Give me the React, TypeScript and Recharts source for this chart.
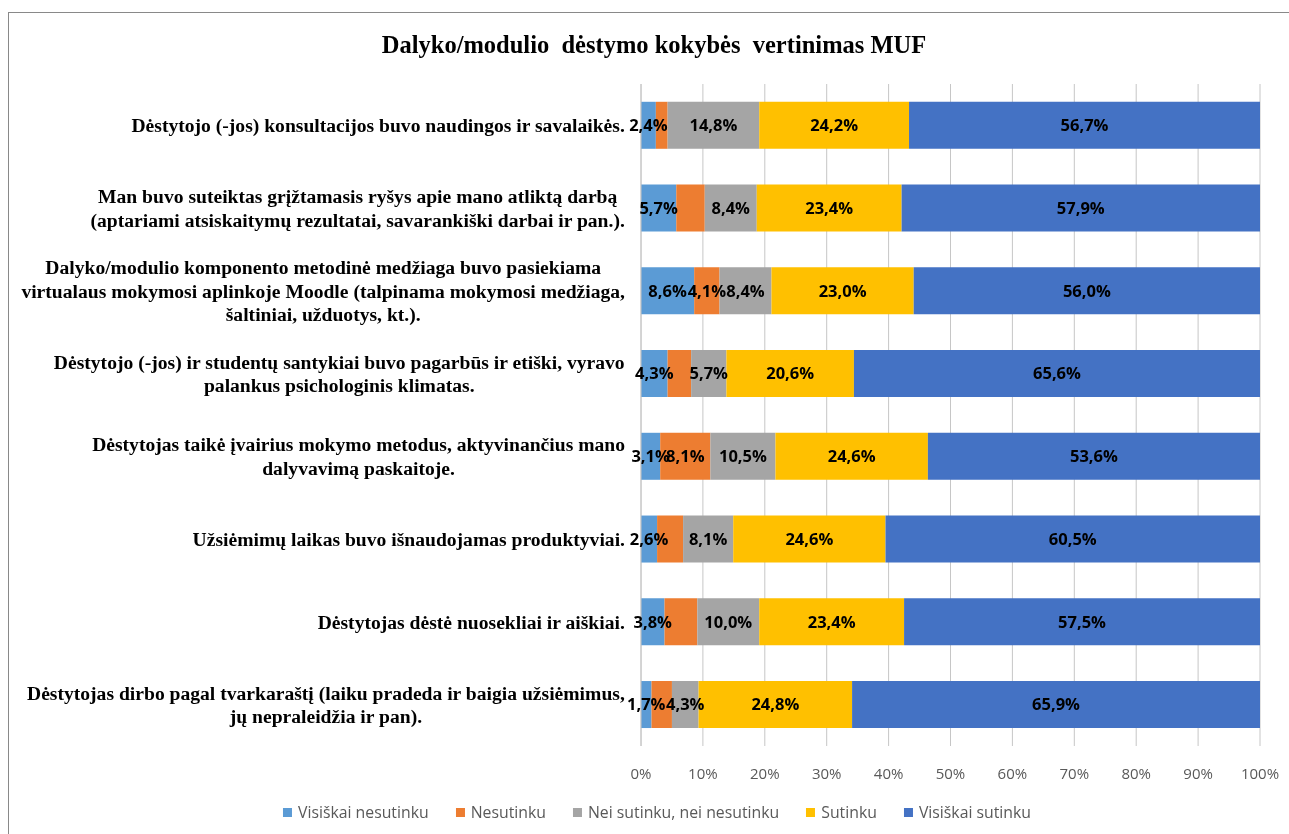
import React from "react"
import { BarChart, Bar, XAxis, YAxis, CartesianGrid, LabelList } from "recharts"

// categories, top to bottom
const categories = [
  "Dėstytojo (-jos) konsultacijos buvo naudingos ir savalaikės.",
  "Man buvo suteiktas grįžtamasis ryšys apie mano atliktą darbą\n(aptariami atsiskaitymų rezultatai, savarankiški darbai ir pan.).",
  "Dalyko/modulio komponento metodinė medžiaga buvo pasiekiama\nvirtualaus mokymosi aplinkoje Moodle (talpinama mokymosi medžiaga,\nšaltiniai, užduotys, kt.).",
  "Dėstytojo (-jos) ir studentų santykiai buvo pagarbūs ir etiški, vyravo\npalankus psichologinis klimatas.",
  "Dėstytojas taikė įvairius mokymo metodus, aktyvinančius mano\ndalyvavimą paskaitoje.",
  "Užsiėmimų laikas buvo išnaudojamas produktyviai.",
  "Dėstytojas dėstė nuosekliai ir aiškiai.",
  "Dėstytojas dirbo pagal tvarkaraštį (laiku pradeda ir baigia užsiėmimus,\njų nepraleidžia ir pan).",
]

// series values (%)
const visiskaiNesutinku = [2.4, 5.7, 8.6, 4.3, 3.1, 2.6, 3.8, 1.7]
const nesutinku = [1.9, 4.6, 4.1, 3.8, 8.1, 4.2, 5.3, 3.3]
const neiNei = [14.8, 8.4, 8.4, 5.7, 10.5, 8.1, 10.0, 4.3]
const sutinku = [24.2, 23.4, 23.0, 20.6, 24.6, 24.6, 23.4, 24.8]
const visiskaiSutinku = [56.7, 57.9, 56.0, 65.6, 53.6, 60.5, 57.5, 65.9]

// only some "Nesutinku" values carry a label in the original
const nesutinkuLabelShown = [false, false, true, false, true, false, false, false]

const xTicks = [0, 0.1, 0.2, 0.3, 0.4, 0.5, 0.6, 0.7, 0.8, 0.9, 1]

const SERIES = [
  { key: "vn", name: "Visiškai nesutinku", values: visiskaiNesutinku, color: "#5B9BD5", shown: null as boolean[] | null },
  { key: "n", name: "Nesutinku", values: nesutinku, color: "#ED7D31", shown: nesutinkuLabelShown },
  { key: "nn", name: "Nei sutinku, nei nesutinku", values: neiNei, color: "#A5A5A5", shown: null },
  { key: "s", name: "Sutinku", values: sutinku, color: "#FFC000", shown: null },
  { key: "vs", name: "Visiškai sutinku", values: visiskaiSutinku, color: "#4472C4", shown: null },
]

const data = categories.map((name, i) => {
  const row: Record<string, string | number> = { name }
  SERIES.forEach((s) => { row[s.key] = s.values[i] })
  return row
})

const SERIF = '"Liberation Serif", "Times New Roman", serif'
const SANS = '"Open Sans", "Noto Sans", sans-serif'
const CAT_FONT_SIZE = 19.6
const CAT_LINE = 23.5

let ctx: CanvasRenderingContext2D | null = null
function textWidth(s: string) {
  if (!ctx) ctx = document.createElement("canvas").getContext("2d")
  if (!ctx) return s.length * 9
  ctx.font = `bold ${CAT_FONT_SIZE}px ${SERIF}`
  return ctx.measureText(s).width
}

// multi-line label: lines centred on each other, block right-aligned to the axis
function CategoryTick({ x, y, payload }: any) {
  const lines = String(payload.value).split("\n")
  const block = Math.max(...lines.map(textWidth))
  const cx = x - block / 2
  const y0 = y - ((lines.length - 1) * CAT_LINE) / 2
  return (
    <text x={cx} y={y0} textAnchor="middle" fontFamily={SERIF} fontWeight="bold" fontSize={CAT_FONT_SIZE} fill="#000">
      {lines.map((l, i) => (
        <tspan key={i} x={cx} y={y0 + i * CAT_LINE} dy="0.35em">{l}</tspan>
      ))}
    </text>
  )
}

const fmt = (v: number) => `${v.toFixed(1).replace(".", ",")}%`

const segLabel = (values: number[], shown: boolean[] | null) => (props: any) => {
  const { x, y, width, height, index } = props
  if (shown && !shown[index]) return null
  return (
    <text
      x={Number(x) + Number(width) / 2}
      y={Number(y) + Number(height) / 2}
      dy="0.36em"
      textAnchor="middle"
      fontFamily={SANS}
      fontWeight="bold"
      fontSize={16.5}
      fill="#000"
    >
      {fmt(values[index])}
    </text>
  )
}

export default function App() {
  return (
    <>
      <div style={{
        position: "fixed", left: 8, top: 12, right: 0, bottom: 0,
        borderLeft: "1px solid #898989", borderTop: "1px solid #898989",
      }} />
      <div style={{ position: "relative", width: 1273, height: 818, overflow: "hidden" }}>
        <div style={{
          position: "absolute", left: 646, top: 23, transform: "translateX(-50%)",
          fontFamily: SERIF, fontWeight: "bold", fontSize: 24.5, lineHeight: "28px",
          whiteSpace: "pre", color: "#000",
        }}>
          {"Dalyko/modulio  dėstymo kokybės  vertinimas MUF"}
        </div>
        <div style={{ position: "absolute", left: 1, top: 5 }}>
          <BarChart
            width={1272}
            height={805}
            data={data}
            layout="vertical"
            stackOffset="expand"
            barCategoryGap="21.5%"
            margin={{ top: 71, right: 21, bottom: 32, left: 0 }}
          >
            <CartesianGrid horizontal={false} stroke="#C6C6C6" />
            <XAxis
              type="number"
              domain={[0, 1]}
              ticks={xTicks}
              tickFormatter={(v: number) => `${Math.round(v * 100)}%`}
              axisLine={false}
              tickLine={false}
              tickSize={0}
              tickMargin={22}
              height={40}
              tick={{ fontFamily: SANS, fontSize: 15, fill: "#595959" }}
            />
            <YAxis
              type="category"
              dataKey="name"
              width={632}
              axisLine={{ stroke: "#C6C6C6" }}
              tickLine={false}
              tickSize={0}
              tickMargin={16}
              interval={0}
              tick={<CategoryTick />}
            />
            {SERIES.map((s) => (
              <Bar key={s.key} dataKey={s.key} name={s.name} stackId="a" fill={s.color} isAnimationActive={false}>
                <LabelList dataKey={s.key} content={segLabel(s.values, s.shown)} />
              </Bar>
            ))}
          </BarChart>
        </div>
        <div style={{
          position: "absolute", left: 649, top: 795, transform: "translateX(-50%)",
          display: "flex", gap: 27, whiteSpace: "nowrap",
          fontFamily: SANS, fontSize: 15.8, lineHeight: "18px", color: "#595959",
        }}>
          {SERIES.map((s) => (
            <div key={s.key} style={{ display: "flex", alignItems: "center" }}>
              <span style={{ width: 9, height: 9, background: s.color, marginRight: 6, display: "inline-block" }} />
              {s.name}
            </div>
          ))}
        </div>
      </div>
    </>
  )
}
